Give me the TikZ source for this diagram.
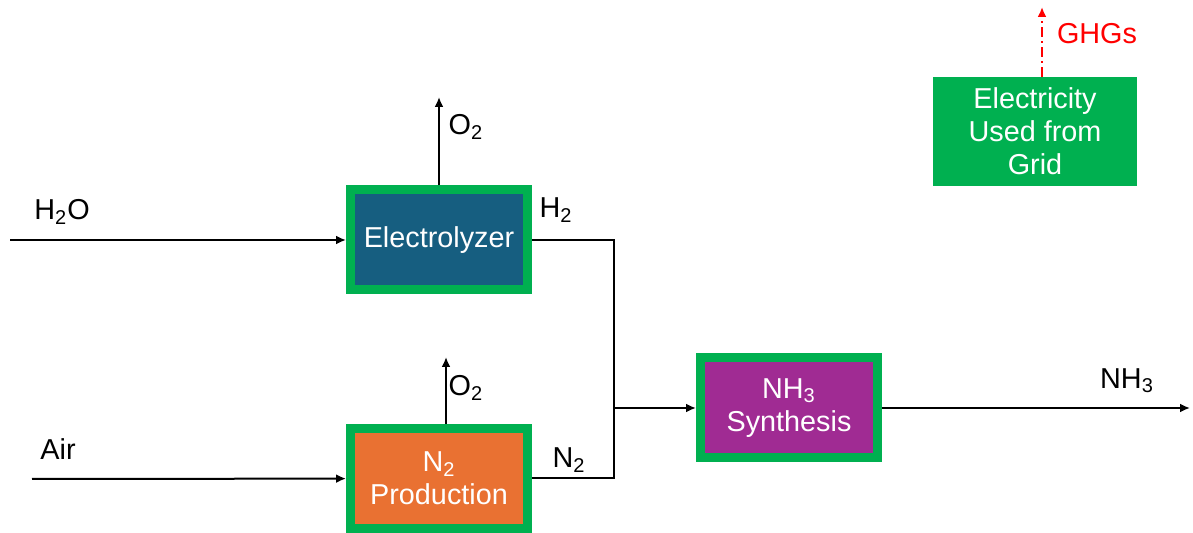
\documentclass[tikz,border=0pt]{standalone}
\usepackage{fontspec}
\setmainfont{Liberation Sans}
\usetikzlibrary{positioning, arrows.meta, calc}
\definecolor{gridgreen}{RGB}{0,176,80}
\definecolor{elecblue}{RGB}{22,94,128}
\definecolor{prodorange}{RGB}{233,113,50}
\definecolor{synpurple}{RGB}{160,43,147}
\definecolor{ghgred}{RGB}{255,0,0}

\begin{document}
\begin{tikzpicture}[
  x=0.5pt, y=-0.5pt,
  font=\fontsize{14.4}{16.5}\selectfont,
  unit/.style={draw=gridgreen, line width=4.5pt, text=white, align=center, inner sep=0pt, minimum width=88.5pt, minimum height=50pt},
  supply/.style={fill=gridgreen, text=white, align=center, inner sep=0pt, minimum width=102pt, minimum height=54.5pt},
  lbl/.style={inner sep=0pt},
  arr/.style={-{Latex[length=5pt, width=4.5pt]}, line width=1pt},
  ghg/.style={-{Latex[length=5pt, width=4.5pt]}, line width=1pt, ghgred, dash pattern=on 5pt off 2pt on 1pt off 2pt}
]
\useasboundingbox (0,0) rectangle (1193,533);
\node[unit, fill=elecblue] (elec) at (439,240) {Electrolyzer};
\node[unit, fill=prodorange] (n2prod) at (439,478.5) {N\textsubscript{2}\\Production};
\node[unit, fill=synpurple] (nh3syn) at (789,408) {NH\textsubscript{3}\\Synthesis};
\node[supply] (grid) at (1035,131.5) {Electricity\\Used from\\Grid};
\coordinate (h2oin) at (10,240);
\coordinate (airin) at (32,479);
\coordinate (o2a) at (439,97);
\coordinate (o2b) at (446,357);
\coordinate (mix) at (614,408);
\coordinate (nh3out) at (1190,408);
\coordinate (ghgtop) at (1042,7);
\draw[arr] (h2oin)--(elec);
\draw[arr] (airin)--(n2prod);
\draw[arr] (elec.north)--(o2a);
\draw[arr] (n2prod.north -| o2b)--(o2b);
\draw[line width=1pt] (elec.east) -| (mix);
\draw[line width=1pt] (n2prod.east) -| (mix);
\draw[arr] (mix)--(nh3syn);
\draw[arr] (nh3syn)--(nh3out);
\draw[ghg] (grid.north -| ghgtop)--(ghgtop);
\node[lbl] (h2olbl) at (62,212) {H\textsubscript{2}O};
\node[lbl] (airlbl) at (58,449) {Air};
\node[lbl] (o2albl) at (466,127) {O\textsubscript{2}};
\node[lbl] (o2blbl) at (466,388) {O\textsubscript{2}};
\node[lbl] (h2lbl) at (556,210) {H\textsubscript{2}};
\node[lbl] (n2lbl) at (569,460) {N\textsubscript{2}};
\node[lbl] (nh3lbl) at (1127,381) {NH\textsubscript{3}};
\node[lbl, text=ghgred] (ghglbl) at (1097,34) {GHGs};
\end{tikzpicture}
\end{document}
